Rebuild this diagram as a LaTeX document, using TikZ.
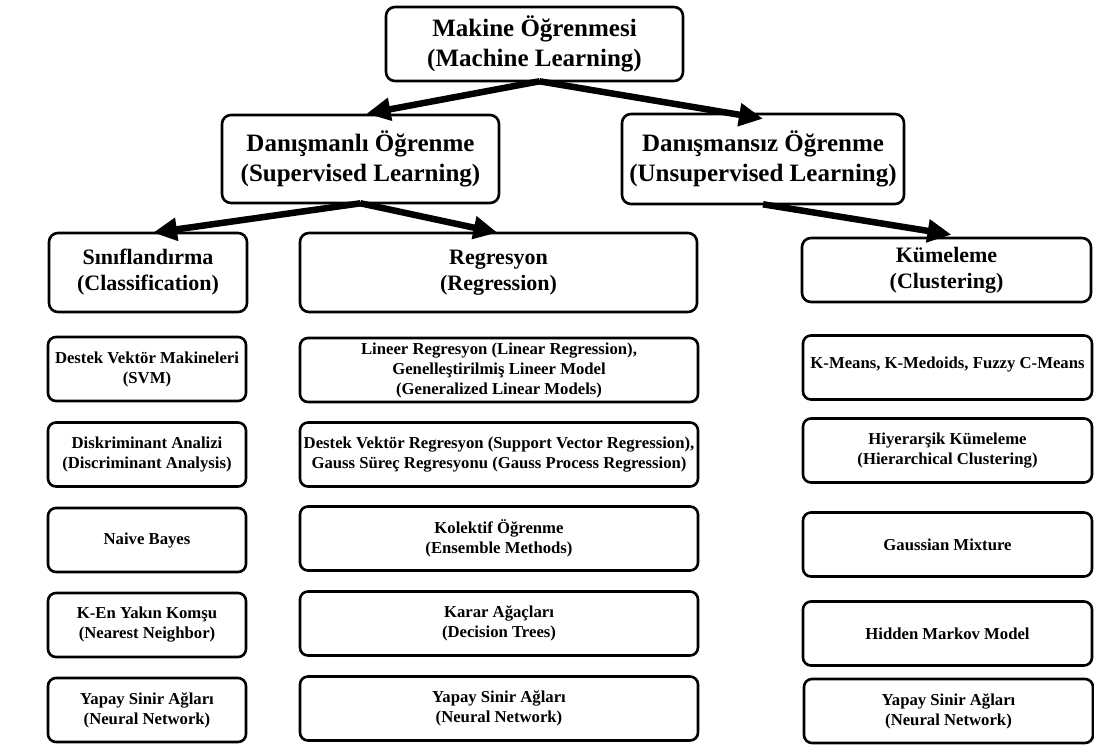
\documentclass[tikz,border=0pt]{standalone}
\usepackage{fontspec}
\setmainfont{Liberation Serif}
\usetikzlibrary{arrows.meta,calc}
\begin{document}
\begin{tikzpicture}[x=1pt,y=-1pt,
  box/.style={draw,line width=2.6pt,rounded corners=9pt,inner sep=0pt,align=center,text=black},
  lvlone/.style={box,font=\bfseries\fontsize{25}{30}\selectfont},
  lvltwo/.style={box,font=\bfseries\fontsize{22}{26}\selectfont},
  leaf/.style={box,rounded corners=8pt,font=\bfseries\fontsize{16.7}{20}\selectfont},
  lcol/.style={leaf,minimum width=198pt,minimum height=64pt},
  mcol/.style={leaf,minimum width=398pt,minimum height=64pt},
  rcol/.style={leaf,minimum width=289pt,minimum height=64pt},
  arr/.style={line width=6.5pt,-{Triangle[length=24pt,width=22pt]}}]
\useasboundingbox (0,0) rectangle (1094,745);

% level 0
\node[lvlone,minimum width=297pt,minimum height=74pt] (ml) at (534.5,44) {Makine Öğrenmesi\\(Machine Learning)};
% level 1
\node[lvlone,minimum width=277pt,minimum height=88pt] (dl) at (360.5,159) {Danışmanlı Öğrenme\\(Supervised Learning)};
\node[lvlone,minimum width=282pt,minimum height=90pt] (dz) at (763,159) {Danışmansız Öğrenme\\(Unsupervised Learning)};
% level 2
\node[lvltwo,minimum width=198pt,minimum height=79pt] (sn) at (148,272.5) {Sınıflandırma\\(Classification)};
\node[lvltwo,minimum width=397pt,minimum height=79pt] (rg) at (498.5,272.5) {Regresyon\\(Regression)};
\node[lvltwo,minimum width=289pt,minimum height=64pt] (km) at (946.5,270) {Kümeleme\\(Clustering)};

% left column
\node[lcol] (l1) at (147,369) {Destek Vektör Makineleri\\(SVM)};
\node[lcol] (l2) at (147,454.5) {Diskriminant Analizi\\(Discriminant Analysis)};
\node[lcol] (l3) at (147,540) {Naive Bayes};
\node[lcol] (l4) at (147,625) {K-En Yakın Komşu\\(Nearest Neighbor)};
\node[lcol] (l5) at (147,710) {Yapay Sinir Ağları\\(Neural Network)};

% middle column
\node[mcol] (m1) at (499,370) {Lineer Regresyon (Linear Regression),\\Genelleştirilmiş Lineer Model\\(Generalized Linear Models)};
\node[mcol] (m2) at (499,454.5) {Destek Vektör Regresyon (Support Vector Regression),\\Gauss Süreç Regresyonu (Gauss Process Regression)};
\node[mcol] (m3) at (499,538.5) {Kolektif Öğrenme\\(Ensemble Methods)};
\node[mcol] (m4) at (499,623.5) {Karar Ağaçları\\(Decision Trees)};
\node[mcol] (m5) at (499,708.5) {Yapay Sinir Ağları\\(Neural Network)};

% right column
\node[rcol,text depth=10pt] (r1) at (947.5,367.5) {K-Means, K-Medoids, Fuzzy C-Means};
\node[rcol] (r2) at (947.5,450.5) {Hiyerarşik Kümeleme\\(Hierarchical Clustering)};
\node[rcol] (r3) at (947.5,544.5) {Gaussian Mixture};
\node[rcol] (r4) at (947.5,633.5) {Hidden Markov Model};
\node[rcol] (r5) at (948.5,711) {Yapay Sinir Ağları\\(Neural Network)};

% arrows
\coordinate (mlo) at ($(ml.south)+(5,-1)$);
\coordinate (dlo) at ($(dl.south)+(0,-1)$);
\coordinate (dzo) at ($(dz.south)+(0,-1)$);
\draw[arr] (mlo) -- ($(dl.north)+(6,0)$);
\draw[arr] (mlo) -- ($(dz.north)+(0,6)$);
\draw[arr] (dlo) -- ($(sn.north)+(5,1)$);
\draw[arr] (dlo) -- ($(rg.north)+(-1,1)$);
\draw[arr] (dzo) -- ($(km.north)+(5,-2)$);
\end{tikzpicture}
\end{document}
